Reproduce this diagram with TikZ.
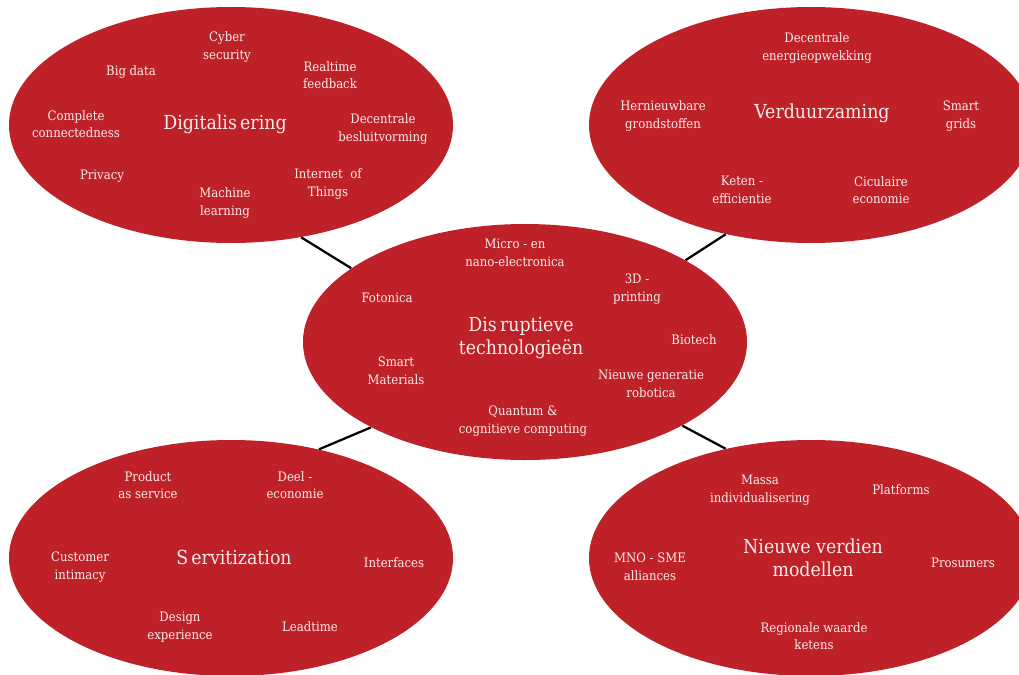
\documentclass[tikz,border=0pt]{standalone}
\usepackage{fontspec}
\setmainfont{DejaVu Serif Condensed}
\usepackage{xcolor}
\usetikzlibrary{shapes.geometric, backgrounds}
\definecolor{bloodred}{RGB}{190,33,39}
\definecolor{paletxt}{RGB}{250,236,236}

\begin{document}
\begin{tikzpicture}[x=0.2mm, y=-0.2mm,
    blob/.style={ellipse, fill=bloodred, inner sep=0pt,
                 minimum width=88.8mm, minimum height=47.2mm},
    lbl/.style={text=paletxt, align=center, inner sep=1pt,
                font=\fontsize{7.4}{10}\selectfont},
    ttl/.style={text=paletxt, align=center, inner sep=1pt,
                font=\fontsize{11}{13}\selectfont},
    link/.style={black, line width=0.45mm},
]
\useasboundingbox (0,0) rectangle (1019,675);
\clip (0,0) rectangle (1019,675);
\node[blob] (dig)  at (231,125) {};
\node[blob] (duur) at (811,125) {};
\node[blob] (tech) at (525,342) {};
\node[blob] (serv) at (231,558) {};
\node[blob] (verd) at (811,558) {};
\begin{scope}[on background layer]
\draw[link] (tech.157)  -- (dig.-58);
\draw[link] (tech.27)   -- (duur.-128);
\draw[link] (tech.-151) -- (serv.51);
\draw[link] (tech.-28)  -- (verd.128);
\end{scope}
% Digitalisering
\node[ttl] (digt) at (225,124) {Digitalis\,ering};
\node[lbl] (cyb)  at (227,47)  {Cyber\\security};
\node[lbl] (big)  at (131,72)  {Big data};
\node[lbl] (real) at (330,75)  {Realtime\\feedback};
\node[lbl] (conn) at (76,124)  {Complete\\connectedness};
\node[lbl] (besl) at (383,129) {Decentrale\\besluitvorming};
\node[lbl] (priv) at (102,176) {Privacy};
\node[lbl] (iot)  at (328,184) {Internet\ \ of\\Things};
\node[lbl] (mach) at (225,203) {Machine\\learning};
% Verduurzaming
\node[ttl] (duurt) at (822,113) {Verduurzaming};
\node[lbl] (ener)  at (817,48)  {Decentrale\\energieopwekking};
\node[lbl] (grond) at (663,116) {Hernieuwbare\\grondstoffen};
\node[lbl] (grid)  at (961,116) {Smart\\grids};
\node[lbl] (ket)   at (742,190) {Keten -\\efficientie};
\node[lbl] (circ)  at (881,190) {Ciculaire\\economie};
% Disruptieve technologieen
\node[ttl] (techt) at (521,338) {Dis\,ruptieve\\technologieën};
\node[lbl] (nano)  at (515,253) {Micro - en\\nano-electronica};
\node[lbl] (print) at (637,289) {3D -\\printing};
\node[lbl] (foto)  at (387,298) {Fotonica};
\node[lbl] (bio)   at (694,340) {Biotech};
\node[lbl] (mat)   at (396,371) {Smart\\Materials};
\node[lbl] (robo)  at (651,384) {Nieuwe generatie\\robotica};
\node[lbl] (quant) at (523,421) {Quantum \&\\cognitieve computing};
% Servitization
\node[ttl] (servt) at (234,557) {S\,ervitization};
\node[lbl] (prod)  at (148,485) {Product\\as service};
\node[lbl] (deel)  at (295,485) {Deel -\\economie};
\node[lbl] (cust)  at (80,567)  {Customer\\intimacy};
\node[lbl] (intf)  at (394,563) {Interfaces};
\node[lbl] (desg)  at (180,627) {Design\\experience};
\node[lbl] (lead)  at (310,627) {Leadtime};
% Nieuwe verdienmodellen
\node[ttl] (verdt) at (813,558) {Nieuwe verdien\\modellen};
\node[lbl] (massa) at (760,490) {Massa\\individualisering};
\node[lbl] (plat)  at (901,490) {Platforms};
\node[lbl] (mno)   at (650,567) {MNO - SME\\alliances};
\node[lbl] (pros)  at (963,563) {Prosumers};
\node[lbl] (regio) at (814,636) {Regionale waarde\\ketens};
\end{tikzpicture}
\end{document}
